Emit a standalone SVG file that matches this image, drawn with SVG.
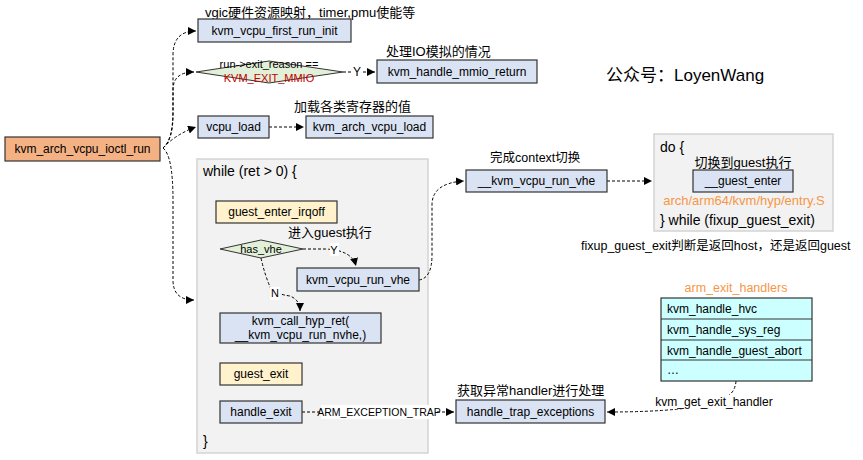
<svg xmlns="http://www.w3.org/2000/svg" width="863" height="460" viewBox="0 0 863 460">
<defs>
<marker id="arr" markerUnits="userSpaceOnUse" markerWidth="9" markerHeight="8" refX="8" refY="4" orient="auto">
<path d="M0,0 L8,4 L0,8 z" fill="#000"/>
</marker>
<style>
text{font-family:"Liberation Sans","Noto Sans CJK SC",sans-serif;fill:#000}
.t{font-size:12px}
.c{text-anchor:middle}
.lbl{font-size:13px}
.box{fill:#DAE3F3;stroke:#333;stroke-width:1.2}
.yel{fill:#FFF2CC;stroke:#333;stroke-width:1.2}
.org{fill:#F4B183;stroke:#333;stroke-width:1.2}
.dia{fill:#E2F0D9;stroke:#333;stroke-width:1}
.grp{fill:#F2F2F2;stroke:#D3D3D3;stroke-width:1.5}
.tbl{fill:#CCFFFF;stroke:#333;stroke-width:1.2}
.con{fill:none;stroke:#000;stroke-width:1;stroke-dasharray:3,2}
.arr{marker-end:url(#arr)}
.bg{fill:#fff}
</style>
</defs>
<rect width="863" height="460" fill="#fff"/>

<g id="while-group">
<rect class="grp" x="197" y="159" width="231" height="294"/>
<text x="203" y="176" style="font-size:14px">while (ret &gt; 0) {</text>
<text x="203" y="446" style="font-size:14px">}</text>
</g>

<g id="do-group">
<rect class="grp" x="654" y="134" width="179" height="97"/>
<text x="660" y="152" style="font-size:14px">do {</text>
<text x="743" y="167" class="lbl c">切换到guest执行</text>
<text x="744" y="205" class="lbl c" style="fill:#F79646">arch/arm64/kvm/hyp/entry.S</text>
<text x="660" y="225" style="font-size:14px">} while (fixup_guest_exit)</text>
</g>

<g id="connectors">
<path class="con arr" d="M163,148 Q173,140 173,110 L173,55 Q173,31 196,31"/>
<path class="con arr" d="M163,148 Q173,140 173,115 L173,90 Q173,72 194,72"/>
<path class="con arr" d="M163,148 Q176,134 196,127"/>
<path class="con arr" d="M163,148 Q173,156 173,200 L173,280 Q173,300 194,300"/>
<path class="con arr" d="M343,72 L375,72"/>
<path class="con arr" d="M269,127 L304,127"/>
<path class="con arr" d="M303,249 L325,249 Q352,250 356,266"/>
<path class="con arr" d="M261,258 Q265,276 271,289 Q276,294 290,296 Q300,300 300,311"/>
<path class="con arr" d="M419,280 Q432,278 432,255 L432,205 Q432,183 464,181"/>
<path class="con arr" d="M607,181 L652,181"/>
<path class="con arr" d="M302,412 L454,412"/>
<path class="con arr" d="M736,381 Q735,396 718,401 Q690,412 607,412"/>
<rect class="bg" x="352" y="65" width="11" height="14"/>
<text x="357" y="76" class="t c">Y</text>
<rect class="bg" x="330" y="243" width="9" height="13"/>
<text x="334" y="254" class="t c" style="font-size:11px">Y</text>
<rect class="bg" x="270" y="287" width="10" height="13"/>
<text x="275" y="297" class="t c" style="font-size:11px">N</text>
<rect class="bg" x="321" y="405" width="116" height="14"/>
<text x="379" y="416" class="c" style="font-size:10.5px">ARM_EXCEPTION_TRAP</text>
<rect class="bg" x="658" y="395" width="112" height="14"/>
<text x="714" y="406" class="t c">kvm_get_exit_handler</text>
</g>

<g id="kvm_arch_vcpu_ioctl_run">
<rect class="org" x="5" y="137" width="155" height="24"/>
<text x="82.5" y="153" class="t c">kvm_arch_vcpu_ioctl_run</text>
</g>

<g id="kvm_vcpu_first_run_init">
<text x="205" y="17" class="lbl">vgic硬件资源映射，timer,pmu使能等</text>
<rect class="box" x="198" y="19" width="153" height="23"/>
<text x="274.5" y="35" class="t c">kvm_vcpu_first_run_init</text>
</g>

<g id="exit_reason">
<polygon class="dia" points="196,72 269,61 343,72 269,83"/>
<text x="269" y="68" class="c" style="font-size:11px">run-&gt;exit_reason ==</text>
<text x="269" y="82" class="c" style="font-size:11px;fill:#C00000">KVM_EXIT_MMIO</text>
</g>

<g id="kvm_handle_mmio_return">
<text x="386" y="56" class="lbl">处理IO模拟的情况</text>
<rect class="box" x="377" y="60" width="160" height="23"/>
<text x="457" y="76" class="t c">kvm_handle_mmio_return</text>
</g>

<g id="vcpu_load">
<rect class="box" x="198" y="116" width="71" height="22"/>
<text x="233.5" y="131" class="t c">vcpu_load</text>
</g>

<g id="kvm_arch_vcpu_load">
<text x="294" y="111" class="lbl">加载各类寄存器的值</text>
<rect class="box" x="306" y="116" width="127" height="22"/>
<text x="369.5" y="131" class="t c">kvm_arch_vcpu_load</text>
</g>

<g id="watermark">
<text x="606" y="81" style="font-size:17px">公众号：LoyenWang</text>
</g>

<g id="guest_enter_irqoff">
<rect class="yel" x="216" y="201" width="121" height="22"/>
<text x="276.5" y="216" class="t c">guest_enter_irqoff</text>
</g>

<g id="has_vhe">
<text x="288" y="237" class="lbl">进入guest执行</text>
<polygon class="dia" points="220,249 261,240 303,249 261,258"/>
<text x="261" y="253" class="c" style="font-size:11px">has_vhe</text>
</g>

<g id="kvm_vcpu_run_vhe">
<rect class="box" x="297" y="268" width="122" height="23"/>
<text x="358" y="284" class="t c">kvm_vcpu_run_vhe</text>
</g>

<g id="kvm_call_hyp_ret">
<rect class="box" x="220" y="313" width="161" height="30"/>
<text x="300.5" y="325" class="t c">kvm_call_hyp_ret(</text>
<text x="300.5" y="339" class="t c">__kvm_vcpu_run_nvhe,)</text>
</g>

<g id="guest_exit">
<rect class="yel" x="220" y="363" width="82" height="22"/>
<text x="261" y="378" class="t c">guest_exit</text>
</g>

<g id="handle_exit">
<rect class="box" x="220" y="401" width="82" height="22"/>
<text x="261" y="416" class="t c">handle_exit</text>
</g>

<g id="__kvm_vcpu_run_vhe">
<text x="490" y="162" style="font-size:12.5px">完成context切换</text>
<rect class="box" x="466" y="170" width="141" height="22"/>
<text x="536.5" y="185" class="t c">__kvm_vcpu_run_vhe</text>
</g>

<g id="__guest_enter">
<rect class="box" x="693" y="170" width="100" height="22"/>
<text x="743" y="185" class="t c">__guest_enter</text>
</g>

<g id="fixup_note">
<text x="581" y="250" style="font-size:12.5px">fixup_guest_exit判断是返回host，还是返回guest</text>
</g>

<g id="handle_trap_exceptions">
<text x="457" y="395" class="lbl">获取异常handler进行处理</text>
<rect class="box" x="456" y="400" width="149" height="23"/>
<text x="530.5" y="416" class="t c">handle_trap_exceptions</text>
</g>

<g id="arm_exit_handlers">
<text x="736" y="292" class="c" style="font-size:12.5px;fill:#F79646">arm_exit_handlers</text>
<rect class="tbl" x="661" y="298" width="151" height="83"/>
<line x1="661" y1="319" x2="812" y2="319" stroke="#333" stroke-width="1"/>
<line x1="661" y1="340" x2="812" y2="340" stroke="#333" stroke-width="1"/>
<line x1="661" y1="360" x2="812" y2="360" stroke="#333" stroke-width="1"/>
<text x="667" y="313" class="t">kvm_handle_hvc</text>
<text x="667" y="334" class="t">kvm_handle_sys_reg</text>
<text x="667" y="355" class="t">kvm_handle_guest_abort</text>
<text x="667" y="374" class="t">…</text>
</g>
</svg>
